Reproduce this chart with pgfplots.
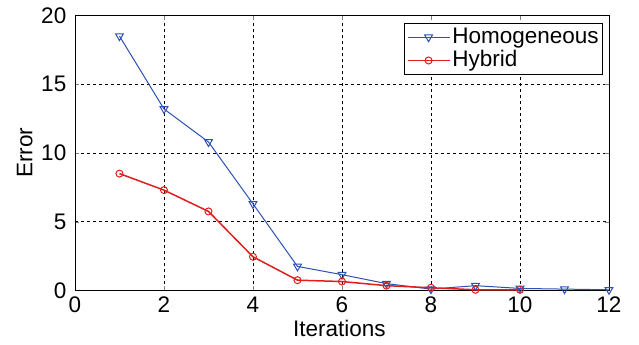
\documentclass[border=0pt]{standalone}
\usepackage{pgfplots}
\pgfplotsset{compat=1.18}
\usepackage{fontspec}
\setmainfont{Liberation Sans}
\definecolor{hblue}{RGB}{45,80,180}
\definecolor{hred}{RGB}{225,30,30}
\begin{document}
\fontsize{22.5}{26}\selectfont
\begin{tikzpicture}
\begin{axis}[
  scale only axis,
  width=534pt, height=275pt,
  xmin=0, xmax=12, ymin=0, ymax=20,
  xtick={0,2,...,12}, ytick={0,5,...,20},
  tick align=inside,
  grid=major,
  major grid style={black, dashed, line width=0.5pt},
  axis line style={black, line width=0.7pt},
  xlabel={Iterations}, ylabel={Error},
  /pgf/number format/assume math mode=true,
  tick label style={font=\fontsize{22.5}{26}\selectfont},
  label style={font=\fontsize{22.5}{26}\selectfont},
  xlabel style={at={(axis description cs:0.495,-0.138)}, anchor=center},
  ylabel style={at={(axis description cs:-0.094,0.5)}, anchor=center},
  xticklabel style={yshift=1pt},
  yticklabel style={xshift=-1pt},
  legend style={at={(axis description cs:0.9888,0.971)}, anchor=north east, draw=black, fill=white,
    font=\fontsize{22.5}{26}\selectfont, row sep=0pt, inner sep=2pt, line width=0.7pt},
  legend cell align=left,
  legend image code/.code={\draw[mark repeat=2,mark phase=2,#1] plot coordinates {(0pt,0pt)(21pt,0pt)(42pt,0pt)};},
]
\addplot[hblue, line width=1pt, mark=triangle, mark size=4.5pt, mark options={rotate=180, fill=none, line width=1pt}]
coordinates {(1,18.5)(2,13.2)(3,10.8)(4,6.3)(5,1.75)(6,1.15)(7,0.5)(8,0.1)(9,0.35)(10,0.15)(11,0.1)(12,0.05)};
\addlegendentry{Homogeneous}
\addplot[hred, line width=1.5pt, mark=o, mark size=3.5pt, mark options={fill=none, line width=1pt}]
coordinates {(1,8.5)(2,7.3)(3,5.75)(4,2.45)(5,0.75)(6,0.65)(7,0.35)(8,0.2)(9,0.05)(10,0.05)};
\addlegendentry{Hybrid}
\coordinate (bbbl) at (rel axis cs:-0.1404,-0.1964);
\coordinate (bbtr) at (rel axis cs:1.0562,1.0545);
\end{axis}
\path (bbbl) -- (bbtr);
\end{tikzpicture}
\end{document}
